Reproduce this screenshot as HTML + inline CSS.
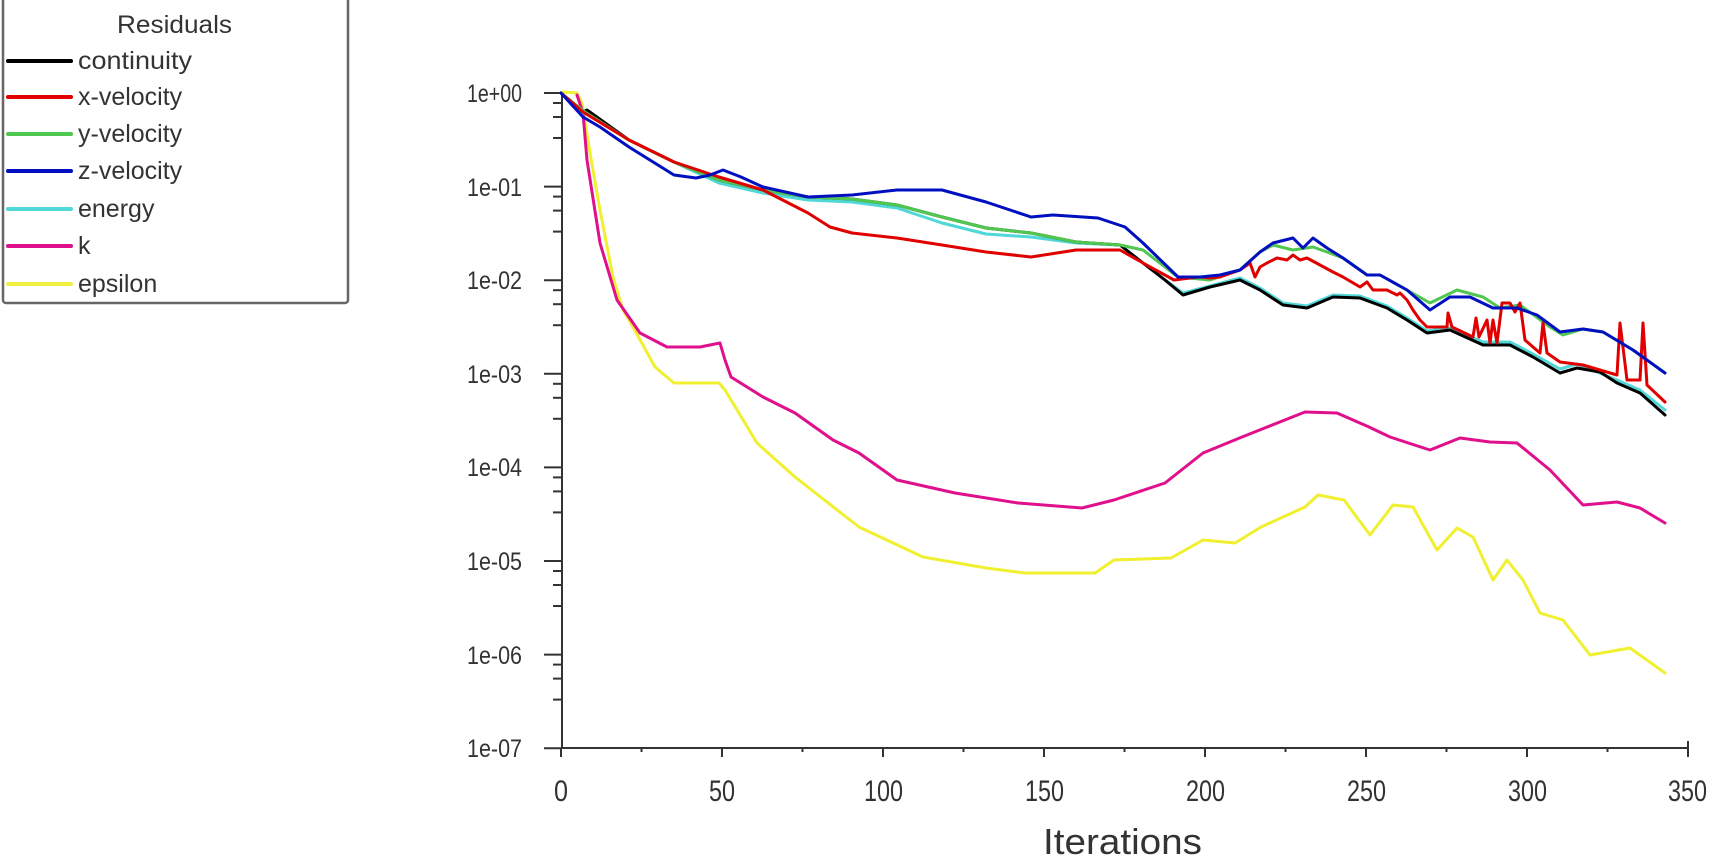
<!DOCTYPE html>
<html><head><meta charset="utf-8"><style>
html,body{margin:0;padding:0;background:#fff;}
svg{display:block;}
text{font-family:"Liberation Sans",Arial,sans-serif;fill:#333;}
</style></head><body>
<svg width="1713" height="856" viewBox="0 0 1713 856" xmlns="http://www.w3.org/2000/svg">
<rect width="1713" height="856" fill="#fff"/>
<!-- legend -->
<rect x="3" y="-4" width="345" height="307" rx="3" fill="#fff" stroke="#666" stroke-width="2.5"/>
<text x="117" y="33" font-size="25" textLength="115" lengthAdjust="spacingAndGlyphs">Residuals</text>
<g stroke-width="4" stroke-linecap="round">
<line x1="8" y1="61" x2="71" y2="61" stroke="#000"/>
<line x1="8" y1="97" x2="71" y2="97" stroke="#e00000"/>
<line x1="8" y1="134" x2="71" y2="134" stroke="#50c850"/>
<line x1="8" y1="171" x2="71" y2="171" stroke="#0010c0"/>
<line x1="8" y1="209" x2="71" y2="209" stroke="#50d8d8"/>
<line x1="8" y1="246" x2="71" y2="246" stroke="#e0108c"/>
<line x1="8" y1="284" x2="71" y2="284" stroke="#f0f040"/>
</g>
<g font-size="25">
<text x="78" y="69" textLength="114" lengthAdjust="spacingAndGlyphs">continuity</text>
<text x="78" y="105">x-velocity</text>
<text x="78" y="142">y-velocity</text>
<text x="78" y="179">z-velocity</text>
<text x="78" y="217">energy</text>
<text x="78" y="254">k</text>
<text x="78" y="292">epsilon</text>
</g>
<!-- axes -->
<g stroke="#333" stroke-width="2" fill="none">
<line x1="562" y1="93" x2="562" y2="749"/>
<line x1="561" y1="748" x2="1688" y2="748"/>
<line x1="1688" y1="741" x2="1688" y2="753"/>
</g>
<g stroke="#333" stroke-width="2" id="yt"></g>
<g stroke="#333" stroke-width="2" id="xt"></g>
<g font-size="25">
<text x="467" y="102" textLength="55" lengthAdjust="spacingAndGlyphs">1e+00</text>
<text x="467" y="196" textLength="55" lengthAdjust="spacingAndGlyphs">1e-01</text>
<text x="467" y="289" textLength="55" lengthAdjust="spacingAndGlyphs">1e-02</text>
<text x="467" y="383" textLength="55" lengthAdjust="spacingAndGlyphs">1e-03</text>
<text x="467" y="476" textLength="55" lengthAdjust="spacingAndGlyphs">1e-04</text>
<text x="467" y="570" textLength="55" lengthAdjust="spacingAndGlyphs">1e-05</text>
<text x="467" y="664" textLength="55" lengthAdjust="spacingAndGlyphs">1e-06</text>
<text x="467" y="757" textLength="55" lengthAdjust="spacingAndGlyphs">1e-07</text>
</g>
<g font-size="30">
<text x="554" y="801" textLength="14" lengthAdjust="spacingAndGlyphs">0</text>
<text x="709" y="801" textLength="26" lengthAdjust="spacingAndGlyphs">50</text>
<text x="864" y="801" textLength="39" lengthAdjust="spacingAndGlyphs">100</text>
<text x="1025" y="801" textLength="39" lengthAdjust="spacingAndGlyphs">150</text>
<text x="1186" y="801" textLength="39" lengthAdjust="spacingAndGlyphs">200</text>
<text x="1347" y="801" textLength="39" lengthAdjust="spacingAndGlyphs">250</text>
<text x="1508" y="801" textLength="39" lengthAdjust="spacingAndGlyphs">300</text>
<text x="1668" y="801" textLength="39" lengthAdjust="spacingAndGlyphs">350</text>
</g>
<text x="1043" y="854" font-size="36" fill="#111" textLength="159" lengthAdjust="spacingAndGlyphs">Iterations</text>
<g fill="none" stroke-width="3" stroke-linejoin="round" stroke-linecap="round">
<polyline stroke="#f0f030" points="563,92 577,93 582,103 590,153 600,210 613,277 623,310 633,327 655,367 674,383 719,383 725,390 757,443 795,477 859,527 923,557 986,568 1025,573 1095,573 1114,560 1171,558 1203,540 1235,543 1261,527 1305,507 1318,495 1344,500 1370,535 1393,505 1413,507 1437,550 1457,528 1473,537 1493,580 1507,560 1523,580 1540,613 1563,620 1590,655 1630,648 1665,673"/>
<polyline stroke="#e0108c" points="577,95 583,113 587,160 600,243 617,300 640,333 667,347 700,347 720,343 725,360 731,377 763,397 795,413 833,440 859,453 897,480 955,493 1018,503 1082,508 1114,500 1165,483 1203,453 1242,437 1305,412 1337,413 1369,427 1390,437 1430,450 1460,438 1490,442 1517,443 1550,470 1583,505 1617,502 1640,508 1665,523"/>
<polyline stroke="#50d8d8" points="561,93 583,113 594,117 629,140 674,162 719,183 763,193 808,200 852,202 897,208 942,223 986,234 1031,237 1076,243 1120,245 1143,263 1165,280 1183,293 1210,286 1240,278 1260,288 1283,303 1307,306 1333,295 1360,296 1387,306 1407,318 1427,331 1450,328 1483,342 1510,342 1533,354 1560,369 1577,364 1617,380 1640,390 1665,410"/>
<polyline stroke="#000" points="561,93 583,112 587,110 629,140 674,162 719,180 763,190 808,197 852,199 897,205 942,217 986,228 1031,233 1076,242 1120,245 1143,263 1165,280 1183,295 1210,287 1240,280 1260,290 1283,305 1307,308 1333,297 1360,298 1387,308 1407,320 1427,333 1450,330 1483,345 1510,345 1533,357 1560,373 1577,368 1600,372 1617,383 1640,393 1665,415"/>
<polyline stroke="#50c850" points="561,93 585,112 629,140 674,162 719,180 763,190 808,197 852,199 897,205 942,217 986,228 1031,233 1076,242 1120,245 1143,250 1178,277 1210,280 1240,270 1260,252 1273,245 1293,250 1313,247 1327,252 1343,258 1367,275 1380,275 1407,290 1430,303 1457,290 1483,297 1500,308 1520,305 1550,327 1563,335 1583,329 1603,332 1633,350 1665,373"/>
<polyline stroke="#e00000" points="561,93 583,112 629,140 674,162 719,177 763,190 808,213 830,227 852,233 897,238 942,245 986,252 1031,257 1076,250 1120,250 1143,263 1174,280 1190,278 1200,277 1210,278 1220,277 1240,270 1250,263 1255,277 1260,267 1267,263 1277,258 1287,260 1293,255 1300,260 1307,258 1320,265 1333,272 1343,277 1360,287 1367,282 1373,290 1387,290 1397,295 1400,293 1407,300 1413,310 1420,320 1427,327 1447,327 1448,313 1452,327 1473,337 1476,318 1479,337 1487,320 1490,343 1493,320 1497,343 1502,303 1510,303 1515,312 1520,303 1525,340 1533,347 1540,353 1543,323 1547,353 1560,362 1583,365 1617,375 1620,323 1627,380 1640,380 1643,323 1647,385 1665,402"/>
<polyline stroke="#0010c0" points="561,93 583,117 600,127 629,147 674,175 696,178 710,175 723,170 741,177 763,187 808,197 852,195 897,190 942,190 986,202 1031,217 1053,215 1098,218 1125,227 1143,243 1178,277 1200,277 1220,275 1240,270 1260,252 1273,243 1293,238 1303,248 1313,238 1327,248 1343,258 1367,275 1380,275 1407,290 1430,310 1450,297 1470,297 1493,308 1517,308 1537,315 1560,332 1583,329 1603,332 1633,350 1665,373"/>
</g>
</svg>
<script>
(function(){
var ns="http://www.w3.org/2000/svg";
var yt=document.getElementById("yt"),xt=document.getElementById("xt");
function L(g,x1,y1,x2,y2){var l=document.createElementNS(ns,"line");l.setAttribute("x1",x1);l.setAttribute("y1",y1);l.setAttribute("x2",x2);l.setAttribute("y2",y2);g.appendChild(l);}
for(var k=0;k<8;k++){var y=93+93.6*k;L(yt,544,y,562,y);
 if(k<7){[10,24,45].forEach(function(o){L(yt,553,y+o,562,y+o);});}}
for(var i=0;i<=14;i++){var x=561+i*80.5;if(i%2==0)L(xt,x,748,x,757);else L(xt,x,748,x,752);}
})();
</script>
</body></html>
